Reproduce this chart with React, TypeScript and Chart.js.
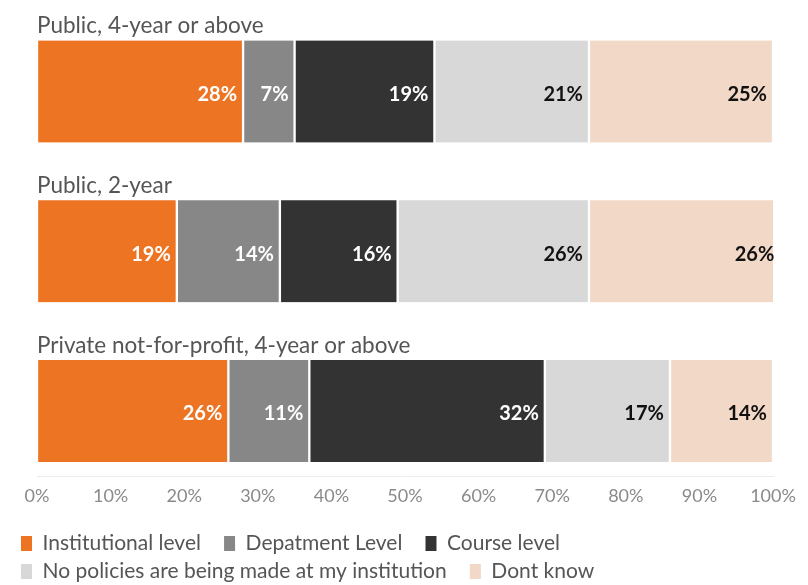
import React, { useEffect, useRef } from "react";
import { Chart, registerables } from "chart.js";

Chart.register(...registerables);

const categories = [
  "Public, 4-year or above",
  "Public, 2-year",
  "Private not-for-profit, 4-year or above",
];
const seriesNames = [
  "Institutional level",
  "Depatment Level",
  "Course level",
  "No policies are being made at my institution",
  "Dont know",
];
const institutional = [28, 19, 26];
const department = [7, 14, 11];
const course = [19, 16, 32];
const noPolicies = [21, 26, 17];
const dontKnow = [25, 26, 14];
const xTicks = [0, 10, 20, 30, 40, 50, 60, 70, 80, 90, 100];

const seriesValues = [institutional, department, course, noPolicies, dontKnow];
const colors = ["#ED7422", "#878787", "#333333", "#D8D8D8", "#F2D8C6"];
const labelColors = ["#ffffff", "#ffffff", "#ffffff", "#111111", "#111111"];

const FONT = "Lato, 'Noto Sans', sans-serif";

const labelPlugin = {
  id: "segLabels",
  afterDatasetsDraw(chart: any) {
    const ctx = chart.ctx;
    ctx.save();
    chart.data.datasets.forEach((ds: any, di: number) => {
      const meta = chart.getDatasetMeta(di);
      meta.data.forEach((bar: any, i: number) => {
        const v = ds.data[i].x;
        ctx.font = `bold 20px ${FONT}`;
        ctx.fillStyle = labelColors[di];
        ctx.textAlign = "right";
        ctx.textBaseline = "middle";
        ctx.fillText(`${v}%`, bar.x - 6, bar.y + 3);
      });
    });
    // category titles
    const meta0 = chart.getDatasetMeta(0);
    ctx.font = `22.5px ${FONT}`;
    ctx.fillStyle = "#555555";
    ctx.textAlign = "left";
    ctx.textBaseline = "alphabetic";
    meta0.data.forEach((bar: any, i: number) => {
      const top = bar.y - bar.height / 2;
      ctx.fillText(categories[i], chart.chartArea.left, top - 7);
    });
    ctx.restore();
  },
};

export default function App() {
  const ref = useRef<HTMLCanvasElement | null>(null);
  useEffect(() => {
    document.body.style.margin = "0";
    const canvas = ref.current!;
    const chart = new Chart(canvas, {
      type: "bar",
      data: {
        datasets: seriesNames.map((name, si) => ({
          label: name,
          data: categories.map((_, i) => ({ x: seriesValues[si][i], y: i })),
          backgroundColor: colors[si],
          borderColor: "#ffffff",
          borderWidth: { left: 1.5, right: 1.5, top: 0, bottom: 0 },
          borderSkipped: false,
          barThickness: 102,
        })),
      },
      options: {
        indexAxis: "y",
        animation: false,
        responsive: false,
        layout: { padding: { left: 14, right: 35, top: 10, bottom: -7 } },
        scales: {
          x: {
            type: "linear",
            stacked: true,
            min: 0,
            max: 100,
            afterBuildTicks: (scale: any) => {
              scale.ticks = xTicks.map((v) => ({ value: v }));
            },
            afterFit: (scale: any) => {
              scale.height = 50;
            },
            ticks: {
              callback: (v: any) => `${v}%`,
              font: { family: FONT, size: 18 },
              color: "#8a8a8a",
              padding: 9,
              maxRotation: 0,
              autoSkip: false,
            },
            grid: { display: false, drawTicks: false },
            border: { display: true, color: "#ececec", width: 1 },
          },
          y: {
            type: "linear",
            stacked: true,
            reverse: true,
            offset: false,
            min: -0.51,
            max: 2.407,
            display: true,
            ticks: { display: false },
            grid: { display: false, drawTicks: false, offset: false },
            border: { display: false },
            afterFit: (scale: any) => {
              scale.width = 23;
            },
          },
        },
        plugins: {
          legend: {
            position: "bottom",
            align: "start",
            labels: {
              boxWidth: 11,
              boxHeight: 15,
              padding: 7,
              color: "#555555",
              font: { family: FONT, size: 21 },
              generateLabels: (chart: any) => {
                const items = Chart.defaults.plugins.legend.labels.generateLabels(chart);
                return items.map((it: any) => ({ ...it, text: it.text + "   ", lineWidth: 0 }));
              },
            },
          },
          tooltip: { enabled: false },
        },
      },
      plugins: [labelPlugin],
    });
    return () => chart.destroy();
  }, []);
  return (
    <div style={{ width: 808, height: 585 }}>
      <canvas ref={ref} width={808} height={585} style={{ width: 808, height: 585, display: "block" }} />
    </div>
  );
}
